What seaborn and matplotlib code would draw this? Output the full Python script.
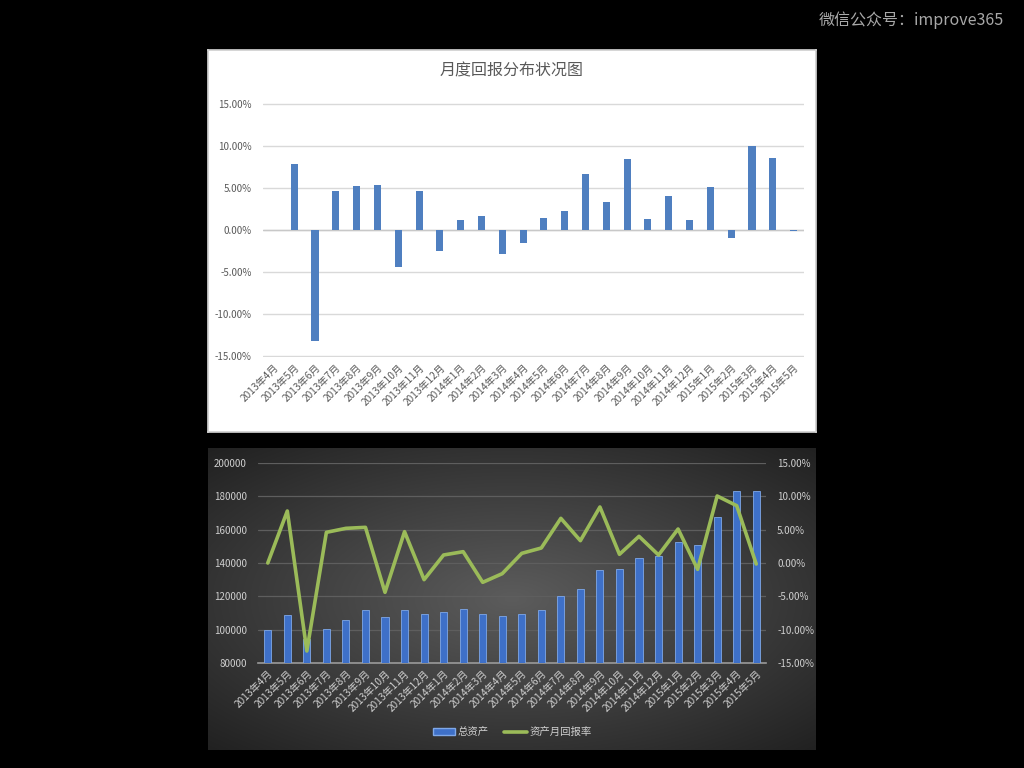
import numpy as np
import pandas as pd
import matplotlib
matplotlib.use("Agg")
import matplotlib.pyplot as plt
import seaborn as sns
from matplotlib.patches import Patch
from matplotlib.lines import Line2D
from matplotlib.ticker import FuncFormatter, MultipleLocator

# ---------------- data ----------------
months = ["2013年4月", "2013年5月", "2013年6月", "2013年7月", "2013年8月", "2013年9月",
          "2013年10月", "2013年11月", "2013年12月", "2014年1月", "2014年2月", "2014年3月",
          "2014年4月", "2014年5月", "2014年6月", "2014年7月", "2014年8月", "2014年9月",
          "2014年10月", "2014年11月", "2014年12月", "2015年1月", "2015年2月", "2015年3月",
          "2015年4月", "2015年5月"]
returns = [0.0, 0.078, -0.132, 0.046, 0.052, 0.0535, -0.044, 0.047, -0.025, 0.012,
           0.017, -0.029, -0.016, 0.0145, 0.0225, 0.067, 0.0335, 0.084, 0.013, 0.040,
           0.012, 0.051, -0.0095, 0.1005, 0.086, -0.0015]
assets = [100000, 108800, 94500, 100500, 105900, 111800, 107400, 111900, 109300, 110600,
          112600, 109300, 108100, 109300, 111900, 120000, 124300, 135600, 136700, 142900,
          144400, 152400, 150600, 167600, 183000, 183000]

title_top = "月度回报分布状况图"
legend_labels = ["总资产", "资产月回报率"]
watermark = "微信公众号：improve365"

df = pd.DataFrame({"month": months, "ret": returns, "assets": assets})
df["idx"] = np.arange(len(df))

# ---------------- style ----------------
sns.set_theme(style="white")
plt.rcParams["font.family"] = ["Noto Sans CJK SC", "DejaVu Sans"]
plt.rcParams["axes.unicode_minus"] = False

W, H = 1024, 768
fig = plt.figure(figsize=(W / 100, H / 100), dpi=100, facecolor="black")

def fx(px):
    return px / W

def fy(py):
    return 1 - py / H

pct = FuncFormatter(lambda v, p: f"{v*100:.2f}%")

# watermark
fig.text(fx(1004), fy(20), watermark, color="#a8a8a8", fontsize=11.5,
         ha="right", va="center")

# ---------------- top panel ----------------
bg1 = fig.add_axes([fx(208), fy(432), fx(816) - fx(208), fy(50) - fy(432)])
bg1.set_facecolor("white")
bg1.set_xticks([])
bg1.set_yticks([])
for s in bg1.spines.values():
    s.set_color("#d0d0d0")
bg1.set_zorder(0)

ax1 = fig.add_axes([fx(263), fy(357), fx(804) - fx(263), fy(103) - fy(357)])
ax1.set_zorder(1)
ax1.set_facecolor("none")
sns.barplot(data=df, x="month", y="ret", color="#4f7fc0", saturation=1,
            width=0.34, ax=ax1, linewidth=0, zorder=3)
ax1.set_ylim(-0.1512, 0.1512)
ax1.set_xlim(-0.5, len(months) - 0.5)
ax1.yaxis.set_major_locator(MultipleLocator(0.05))
ax1.yaxis.set_major_formatter(pct)
ax1.grid(axis="y", color="#d9d9d9", linewidth=1)
ax1.set_axisbelow(True)
for s in ax1.spines.values():
    s.set_visible(False)
ax1.axhline(0, color="#c8c8c8", linewidth=1, zorder=2)
ax1.set_xlabel("")
ax1.set_ylabel("")
ax1.tick_params(axis="y", colors="#595959", labelsize=7, length=0, pad=8)
ax1.tick_params(axis="x", colors="#595959", labelsize=7.3, length=0, pad=4)
plt.setp(ax1.get_xticklabels(), rotation=45, ha="right", rotation_mode="anchor")
fig.text(fx(512), fy(71), title_top, color="#595959", fontsize=11.5,
         ha="center", va="center", zorder=5)

# ---------------- bottom panel ----------------
bg = fig.add_axes([fx(208), fy(750), fx(816) - fx(208), fy(448) - fy(750)])
yy, xx = np.mgrid[-1:1:300j, -1:1:600j]
r = np.sqrt((xx * 0.95) ** 2 + (yy * 1.0) ** 2)
r = np.clip(r, 0, 1.45) / 1.45
c0 = np.array([0x5c, 0x5c, 0x5c]) / 255
c1 = np.array([0x1e, 0x1e, 0x1e]) / 255
img = c0[None, None, :] * (1 - r[..., None]) + c1[None, None, :] * r[..., None]
bg.imshow(img, aspect="auto", extent=[0, 1, 0, 1])
bg.set_axis_off()
bg.set_zorder(0)

ax2 = fig.add_axes([fx(258), fy(663), fx(766) - fx(258), fy(463) - fy(663)])
ax2.set_zorder(1)
ax2.set_facecolor("none")
sns.barplot(data=df, x="month", y="assets", color="#3e70c8", saturation=1,
            width=0.36, ax=ax2, edgecolor="#7fa8e8", linewidth=0.6, zorder=3)
ax2.set_ylim(80000, 200000)
ax2.set_xlim(-0.5, len(months) - 0.5)
ax2.yaxis.set_major_locator(MultipleLocator(20000))
ax2.grid(axis="y", color="#5e5e5e", linewidth=0.9)
ax2.set_axisbelow(True)
for s in ax2.spines.values():
    s.set_visible(False)
ax2.spines["bottom"].set_visible(True)
ax2.spines["bottom"].set_color("#9a9a9a")
ax2.spines["bottom"].set_linewidth(1.2)
ax2.set_xlabel("")
ax2.set_ylabel("")
ax2.tick_params(axis="y", colors="#cfcfcf", labelsize=7, length=0, pad=8)
ax2.tick_params(axis="x", colors="#cfcfcf", labelsize=7.3, length=0, pad=4)
plt.setp(ax2.get_xticklabels(), rotation=45, ha="right", rotation_mode="anchor")

ax3 = ax2.twinx()
sns.lineplot(data=df, x="idx", y="ret", color="#9bbb59", linewidth=2.6, ax=ax3,
             zorder=5)
ax3.set_ylim(-0.15, 0.15)
ax3.set_xlim(-0.5, len(months) - 0.5)
ax3.yaxis.set_major_locator(MultipleLocator(0.05))
ax3.yaxis.set_major_formatter(pct)
for s in ax3.spines.values():
    s.set_visible(False)
ax3.set_ylabel("")
ax3.set_xlabel("")
ax3.grid(False)
ax3.tick_params(axis="y", colors="#cfcfcf", labelsize=7, length=0, pad=8)

handles = [Patch(facecolor="#3e70c8", edgecolor="#7fa8e8"),
           Line2D([0], [0], color="#9bbb59", linewidth=2.6)]
leg = fig.legend(handles, legend_labels, loc="center", bbox_to_anchor=(fx(512), fy(732)),
                 ncol=2, frameon=False, fontsize=7.5, handlelength=2.2,
                 handleheight=0.6, columnspacing=1.5, handletextpad=0.2)
for t in leg.get_texts():
    t.set_color("#cfcfcf")

fig.savefig("out.png", dpi=100, facecolor="black")
